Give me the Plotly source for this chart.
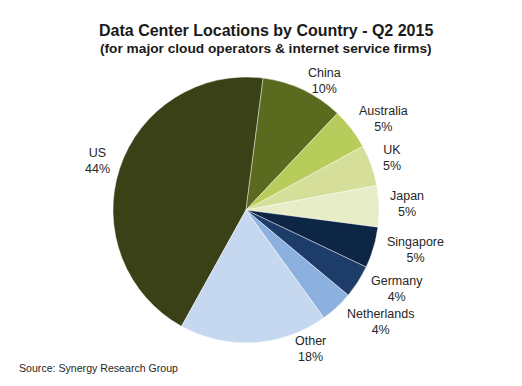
import plotly.graph_objects as go

# ---- data ----
countries = ["US", "China", "Australia", "UK", "Japan", "Singapore", "Germany", "Netherlands", "Other"]
shares = [44, 10, 5, 5, 5, 5, 4, 4, 18]

# ---- styles / layout ----
colors = ["#3b4116", "#5a6a1f", "#b8cc5c", "#d5df9a", "#e7edc7",
          "#0e2646", "#1e3c6a", "#8db1df", "#c6d8f0"]
# label centres in page pixels (x, y from top)
label_px = [(97, 161), (324, 81), (383, 119), (392, 158), (407, 204),
            (415, 250), (397, 289), (380, 322), (310, 349)]

OFF = 8  # default page body margin
W, H = 522 - OFF, 386 - OFF
cx, cy, r = 246 - OFF, 210 - OFF, 133


def px2paper(px, py):
    return (px - OFF) / W, 1 - (py - OFF) / H


fig = go.Figure(go.Pie(
    labels=countries,
    values=shares,
    sort=False,
    direction="clockwise",
    rotation=209,
    textinfo="none",
    marker=dict(colors=colors, line=dict(color="rgba(255,255,255,0.6)", width=0.7)),
    domain=dict(x=[(cx - r) / W, (cx + r) / W], y=[1 - (cy + r) / H, 1 - (cy - r) / H]),
    showlegend=False,
))

annotations = []
for name, val, (px, py) in zip(countries, shares, label_px):
    x, y = px2paper(px, py)
    annotations.append(dict(
        x=x, y=y, xref="paper", yref="paper",
        text=f"{name}<br>{val}%", showarrow=False,
        xanchor="center", yanchor="middle",
        font=dict(family="Liberation Sans, Arial", size=12.5, color="#262626"),
    ))

x, y = px2paper(266, 31)
annotations.append(dict(
    x=x, y=y, xref="paper", yref="paper",
    text="<b>Data Center Locations by Country - Q2 2015</b>", showarrow=False,
    xanchor="center", yanchor="middle",
    font=dict(family="Liberation Sans, Arial", size=16, color="#1a1a1a"),
))
x, y = px2paper(266, 48)
annotations.append(dict(
    x=x, y=y, xref="paper", yref="paper",
    text="<b>(for major cloud operators & internet service firms)</b>", showarrow=False,
    xanchor="center", yanchor="middle",
    font=dict(family="Liberation Sans, Arial", size=13.7, color="#1a1a1a"),
))
x, y = px2paper(17, 368)
annotations.append(dict(
    x=x, y=y, xref="paper", yref="paper",
    text="Source: Synergy Research Group", showarrow=False,
    xanchor="left", yanchor="middle",
    font=dict(family="Liberation Sans, Arial", size=10.6, color="#262626"),
))

fig.update_layout(
    width=W, height=H,
    margin=dict(l=0, r=0, t=0, b=0),
    paper_bgcolor="white", plot_bgcolor="white",
    annotations=annotations,
)

fig.write_html("out.html")
